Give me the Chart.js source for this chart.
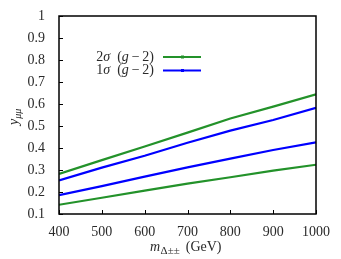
<!DOCTYPE html>
<html>
<head>
<meta charset="utf-8">
<script src="https://cdn.jsdelivr.net/npm/chart.js@4"></script>
<style>
  html, body { margin: 0; padding: 0; background: #fff; }
  #wrap { width: 341px; height: 259px; }
</style>
</head>
<body>
<div id="wrap"><canvas id="c" width="341" height="259"></canvas></div>
<script>
const masses = [400, 500, 600, 700, 800, 900, 1000];
const green_upper = [0.282, 0.345, 0.407, 0.470, 0.534, 0.588, 0.644];
const blue_upper = [0.253, 0.311, 0.365, 0.424, 0.479, 0.527, 0.583];
const blue_lower = [0.186, 0.227, 0.270, 0.312, 0.352, 0.391, 0.426];
const green_lower = [0.142, 0.174, 0.206, 0.238, 0.267, 0.297, 0.324];
const x_ticks = [400, 500, 600, 700, 800, 900, 1000];
const y_ticks = [0.1, 0.2, 0.3, 0.4, 0.5, 0.6, 0.7, 0.8, 0.9, 1];
// legend entries as [text, italic] pieces
const legend_labels = [
  [["2", false], ["\u03c3", true], ["\u2002(", false], ["g", true], ["\u2009\u2212\u20092)", false]],
  [["1", false], ["\u03c3", true], ["\u2002(", false], ["g", true], ["\u2009\u2212\u20092)", false]],
];

const GREEN = "#23922a";
const BLUE = "#0000ff";
const TEXT = "#2a2a2a";
const FONT = "'Liberation Serif', 'DejaVu Serif', serif";

function pts(ys) {
  return masses.map((m, i) => ({ x: m, y: ys[i] }));
}

function line(label, color, ys) {
  return {
    label: label,
    data: pts(ys),
    borderColor: color,
    borderWidth: 2.2,
    pointRadius: 0,
    tension: 0,
  };
}

function richText(ctx, pieces, right, y, size) {
  const fonts = pieces.map(([, it]) => (it ? "italic " : "") + size + "px " + FONT);
  let total = 0;
  pieces.forEach(([t], i) => { ctx.font = fonts[i]; total += ctx.measureText(t).width; });
  let x = right - total;
  ctx.textAlign = "left";
  pieces.forEach(([t], i) => {
    ctx.font = fonts[i];
    ctx.fillText(t, x, y);
    x += ctx.measureText(t).width;
  });
}

// inward ticks, frame, legend and axis titles
const decor = {
  id: "decor",
  afterDraw(chart) {
    const ctx = chart.ctx;
    const a = chart.chartArea;
    const xs = chart.scales.x, ys = chart.scales.y;
    ctx.save();
    ctx.strokeStyle = "#000";
    ctx.lineWidth = 1.5;
    ctx.strokeRect(a.left, a.top, a.right - a.left, a.bottom - a.top);
    ctx.lineWidth = 1;
    ctx.beginPath();
    for (const v of x_ticks) {
      const px = Math.round(xs.getPixelForValue(v)) + 0.5;
      ctx.moveTo(px, a.bottom);
      ctx.lineTo(px, a.bottom - 4);
    }
    for (const v of y_ticks) {
      const py = Math.round(ys.getPixelForValue(v)) + 0.5;
      ctx.moveTo(a.left, py);
      ctx.lineTo(a.left + 4, py);
    }
    ctx.stroke();

    // legend
    const colors = [GREEN, BLUE];
    ctx.textBaseline = "middle";
    legend_labels.forEach((lab, i) => {
      const y = 57 + i * 13.5;
      ctx.fillStyle = TEXT;
      richText(ctx, lab, 154, y, 14);
      ctx.strokeStyle = colors[i];
      ctx.lineWidth = 2;
      ctx.beginPath();
      ctx.moveTo(163, y);
      ctx.lineTo(201, y);
      ctx.stroke();
      ctx.fillStyle = colors[i];
      ctx.fillRect(181, y - 1.5, 3, 3);
    });

    // x title: m_{Δ±±} (GeV)
    ctx.fillStyle = TEXT;
    ctx.textAlign = "left";
    ctx.textBaseline = "alphabetic";
    let x = 150;
    const by = 251;
    ctx.font = "italic 14px " + FONT;
    ctx.fillText("m", x, by);
    x += ctx.measureText("m").width + 0.5;
    ctx.font = "11px " + FONT;
    ctx.fillText("\u0394\u00b1\u00b1", x, by + 3);
    x += ctx.measureText("\u0394\u00b1\u00b1").width + 6;
    ctx.font = "14px " + FONT;
    ctx.fillText("(GeV)", x, by);

    // y title: y_{μμ}
    ctx.translate(18, 125);
    ctx.rotate(-Math.PI / 2);
    ctx.font = "italic 14px " + FONT;
    ctx.fillText("y", 0, 0);
    const w = ctx.measureText("y").width;
    ctx.font = "italic 10px " + FONT;
    ctx.fillText("\u03bc\u03bc", w, 3);
    ctx.restore();
  },
};

new Chart(document.getElementById("c"), {
  type: "line",
  data: {
    datasets: [
      line("2\u03c3 upper", GREEN, green_upper),
      line("1\u03c3 upper", BLUE, blue_upper),
      line("1\u03c3 lower", BLUE, blue_lower),
      line("2\u03c3 lower", GREEN, green_lower),
    ],
  },
  options: {
    responsive: false,
    animation: false,
    layout: { padding: { top: 16, right: 25, left: 0, bottom: 0 } },
    plugins: { legend: { display: false }, tooltip: { enabled: false } },
    scales: {
      x: {
        type: "linear",
        min: 400,
        max: 1000,
        afterBuildTicks: (s) => { s.ticks = x_ticks.map((v) => ({ value: v })); },
        afterFit: (s) => { s.height = 45; },
        grid: { display: false },
        border: { display: false },
        ticks: {
          color: TEXT,
          font: { family: FONT, size: 14 },
          padding: 2,
          maxRotation: 0,
          callback: (v) => String(v),
        },
      },
      y: {
        min: 0.1,
        max: 1,
        afterBuildTicks: (s) => { s.ticks = y_ticks.map((v) => ({ value: v })); },
        afterFit: (s) => { s.width = 59; },
        grid: { display: false },
        border: { display: false },
        ticks: {
          color: TEXT,
          font: { family: FONT, size: 14 },
          padding: 6,
          callback: (v) => String(v),
        },
      },
    },
  },
  plugins: [decor],
});
</script>
</body>
</html>
